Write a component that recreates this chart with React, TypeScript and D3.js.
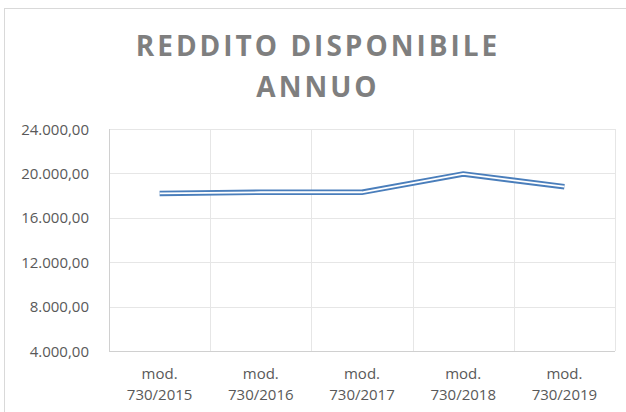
import { useEffect, useRef } from "react"
import * as d3 from "d3"

const categories = ["2015", "2016", "2017", "2018", "2019"]
const labelTop = ["mod.", "mod.", "mod.", "mod.", "mod."]
const labelBottom = ["730/2015", "730/2016", "730/2017", "730/2018", "730/2019"]
const reddito = [18200, 18300, 18300, 19950, 18800]
const yTicks = [4000, 8000, 12000, 16000, 20000, 24000]
const titleLines = ["REDDITO DISPONIBILE", "ANNUO"]

const width = 626
const height = 412

export default function App() {
  const svgRef = useRef<SVGSVGElement>(null)

  useEffect(() => {
    if (!svgRef.current) return
    const svg = d3.select(svgRef.current)
    svg.selectAll("*").remove()

    const font = "'Open Sans', 'Noto Sans', sans-serif"
    const margin = { top: 129, right: 11, bottom: 61, left: 109 }

    // bordo del grafico
    svg
      .append("rect")
      .attr("x", 4.5)
      .attr("y", 8.5)
      .attr("width", 700)
      .attr("height", 500)
      .attr("fill", "#fff")
      .attr("stroke", "#d9d9d9")

    // titolo
    svg
      .append("g")
      .selectAll("text")
      .data(titleLines)
      .enter()
      .append("text")
      .attr("x", 318)
      .attr("y", (d, i) => 56 + i * 41)
      .attr("text-anchor", "middle")
      .attr("fill", "#7f7f7f")
      .style("font-family", font)
      .style("font-weight", "bold")
      .style("font-size", "28px")
      .style("letter-spacing", "3px")
      .text((d) => d)

    const x = d3
      .scaleBand<string>()
      .domain(categories)
      .range([margin.left, width - margin.right])

    const y = d3
      .scaleLinear()
      .domain([4000, 24000])
      .range([height - margin.bottom, margin.top])

    const it = d3.formatLocale({
      decimal: ",",
      thousands: ".",
      grouping: [3],
      currency: ["", "€"],
    })
    const fmt = it.format(",.2f")

    const grid = svg.append("g").attr("stroke", "#e6e6e6").attr("stroke-width", 1)

    // griglia orizzontale
    grid
      .selectAll(".h")
      .data(yTicks)
      .enter()
      .append("line")
      .attr("x1", margin.left)
      .attr("x2", width - margin.right)
      .attr("y1", (d) => Math.round(y(d)) + 0.5)
      .attr("y2", (d) => Math.round(y(d)) + 0.5)

    // griglia verticale (confini delle categorie)
    const bounds = categories.map((c) => x(c) as number).concat([width - margin.right])
    grid
      .selectAll(".v")
      .data(bounds)
      .enter()
      .append("line")
      .attr("x1", (d) => Math.round(d) + 0.5)
      .attr("x2", (d) => Math.round(d) + 0.5)
      .attr("y1", margin.top)
      .attr("y2", height - margin.bottom)

    // assi
    svg
      .append("line")
      .attr("x1", margin.left + 0.5)
      .attr("x2", margin.left + 0.5)
      .attr("y1", margin.top)
      .attr("y2", height - margin.bottom)
      .attr("stroke", "#d0d0d0")
    svg
      .append("line")
      .attr("x1", margin.left)
      .attr("x2", width - margin.right)
      .attr("y1", height - margin.bottom + 0.5)
      .attr("y2", height - margin.bottom + 0.5)
      .attr("stroke", "#d0d0d0")

    svg
      .append("g")
      .selectAll("text")
      .data(yTicks)
      .enter()
      .append("text")
      .attr("x", 89)
      .attr("y", (d) => y(d) + 5.5)
      .attr("text-anchor", "end")
      .attr("fill", "#595959")
      .style("font-family", font)
      .style("font-size", "15px")
      .text((d) => fmt(d))

    // etichette asse x
    const xl = svg
      .append("g")
      .selectAll("g")
      .data(categories)
      .enter()
      .append("g")
      .attr("transform", (d) => `translate(${(x(d) as number) + x.bandwidth() / 2},0)`)
    xl.append("text")
      .attr("y", 379)
      .attr("text-anchor", "middle")
      .attr("fill", "#595959")
      .style("font-family", font)
      .style("font-size", "15px")
      .text((d, i) => labelTop[i])
    xl.append("text")
      .attr("y", 400)
      .attr("text-anchor", "middle")
      .attr("fill", "#595959")
      .style("font-family", font)
      .style("font-size", "15px")
      .text((d, i) => labelBottom[i])

    // linea doppia
    const line = d3
      .line<number>()
      .x((d, i) => (x(categories[i]) as number) + x.bandwidth() / 2)
      .y((d) => y(d))

    svg
      .append("path")
      .datum(reddito)
      .attr("d", line)
      .attr("fill", "none")
      .attr("stroke", "#4a7ebb")
      .attr("stroke-width", 5.5)
      .attr("stroke-linejoin", "miter")
    svg
      .append("path")
      .datum(reddito)
      .attr("d", line)
      .attr("fill", "none")
      .attr("stroke", "#fff")
      .attr("stroke-width", 1.8)
      .attr("stroke-linejoin", "miter")
  }, [])

  return (
    <svg
      ref={svgRef}
      width={width}
      height={height}
      style={{ position: "absolute", left: 0, top: 0, background: "#fff" }}
    />
  )
}
